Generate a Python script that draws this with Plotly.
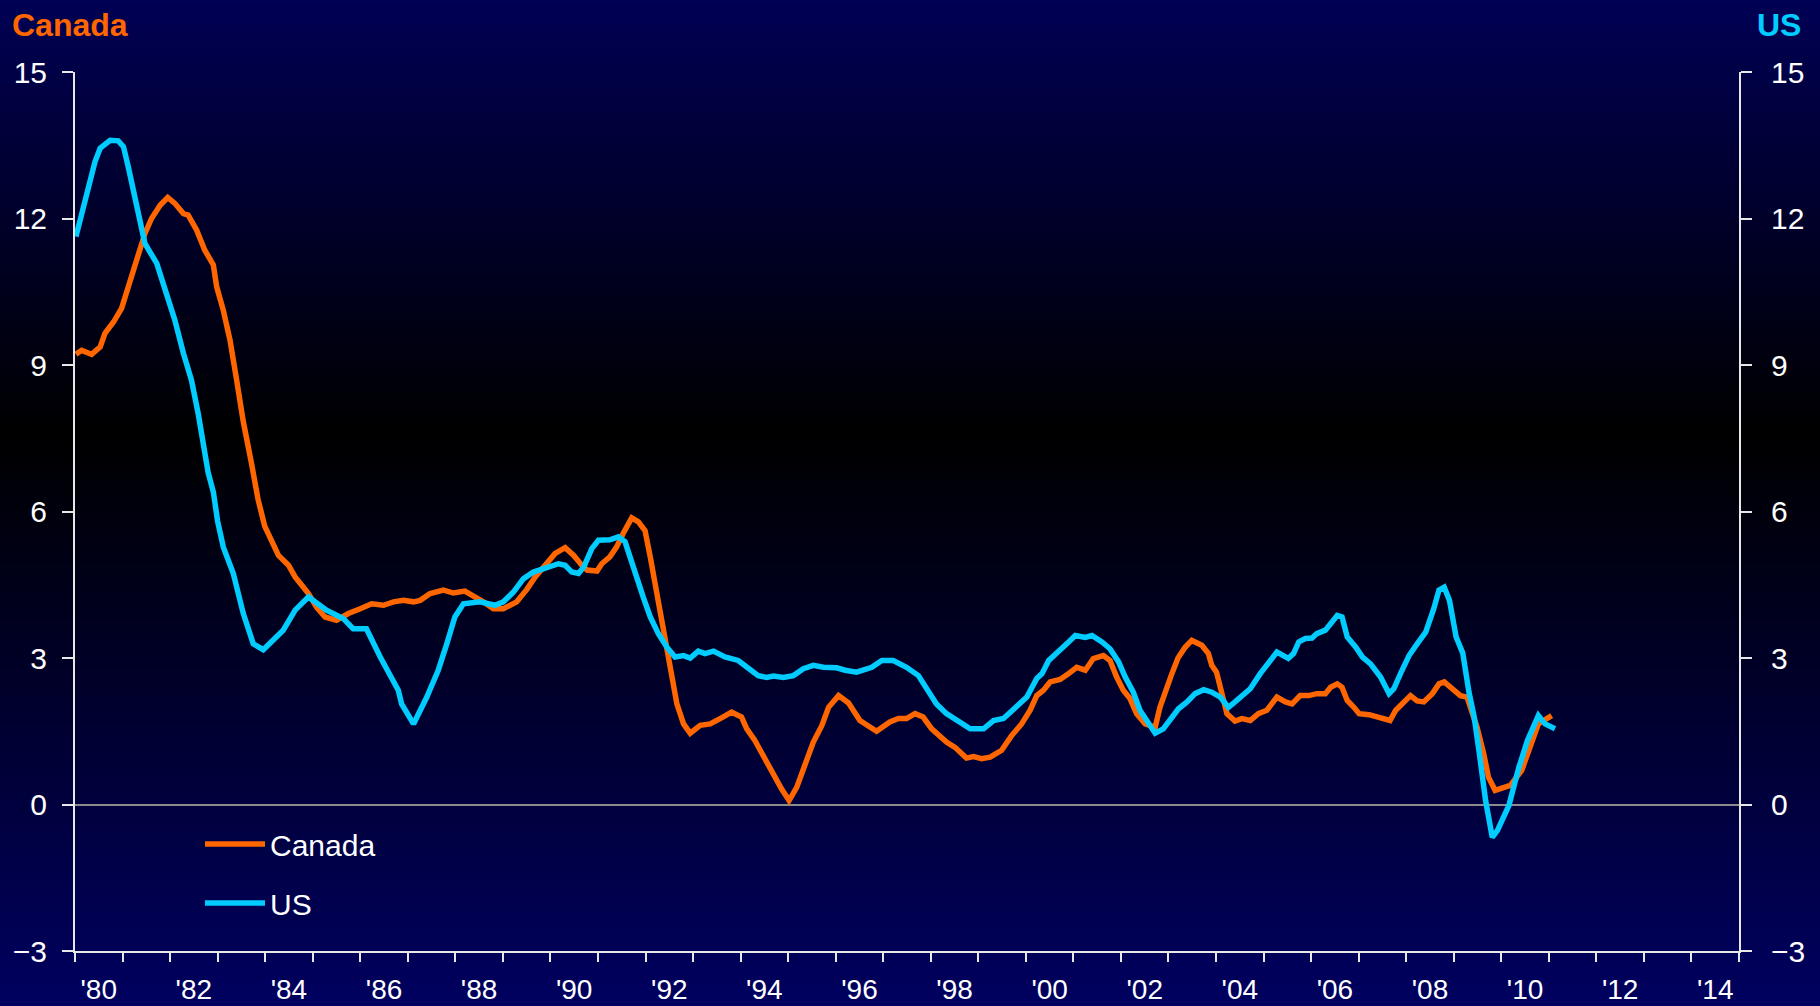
import plotly.graph_objects as go

# ---------------- data ----------------
canada_t = [1980.02, 1980.14, 1980.35, 1980.53, 1980.63, 1980.81, 1980.98, 1981.05, 1981.19, 1981.33,
            1981.47, 1981.61, 1981.79, 1981.95, 1982.10, 1982.28, 1982.38, 1982.56, 1982.73, 1982.91,
            1982.98, 1983.12, 1983.26, 1983.40, 1983.54, 1983.71, 1983.85, 1983.99, 1984.13, 1984.28,
            1984.49, 1984.63, 1984.77, 1984.91, 1985.08, 1985.26, 1985.50, 1985.75, 1986.00, 1986.24,
            1986.49, 1986.70, 1986.91, 1987.12, 1987.26, 1987.47, 1987.75, 1987.96, 1988.20, 1988.38,
            1988.59, 1988.80, 1989.01, 1989.29, 1989.50, 1989.68, 1989.92, 1990.10, 1990.31, 1990.49,
            1990.66, 1990.77, 1990.98, 1991.08, 1991.25, 1991.39, 1991.53, 1991.71, 1991.85, 1991.99,
            1992.10, 1992.24, 1992.38, 1992.52, 1992.66, 1992.80, 1992.94, 1993.15, 1993.36, 1993.57,
            1993.81, 1994.02, 1994.13, 1994.30, 1994.41, 1994.55, 1994.69, 1994.86, 1995.02, 1995.18,
            1995.36, 1995.53, 1995.71, 1995.85, 1996.06, 1996.27, 1996.51, 1996.86, 1997.14, 1997.32,
            1997.49, 1997.67, 1997.84, 1998.02, 1998.33, 1998.51, 1998.75, 1998.90, 1999.07, 1999.25,
            1999.49, 1999.70, 1999.91, 2000.09, 2000.23, 2000.37, 2000.51, 2000.72, 2000.90, 2001.07,
            2001.25, 2001.42, 2001.63, 2001.77, 2001.91, 2002.05, 2002.19, 2002.33, 2002.51, 2002.72,
            2002.82, 2002.96, 2003.06, 2003.20, 2003.35, 2003.49, 2003.70, 2003.84, 2003.91, 2004.01,
            2004.12, 2004.23, 2004.40, 2004.54, 2004.72, 2004.89, 2005.07, 2005.28, 2005.46, 2005.60,
            2005.77, 2005.95, 2006.12, 2006.30, 2006.41, 2006.55, 2006.65, 2006.76, 2006.90, 2007.01,
            2007.22, 2007.39, 2007.53, 2007.66, 2007.78, 2007.95, 2008.09, 2008.23, 2008.37, 2008.55,
            2008.69, 2008.80, 2008.97, 2009.14, 2009.28, 2009.35, 2009.49, 2009.63, 2009.73, 2009.87,
            2010.01, 2010.19, 2010.43, 2010.61, 2010.78, 2011.06]
canada_v = [9.22, 9.30, 9.22, 9.37, 9.65, 9.88, 10.16, 10.39, 10.81, 11.28,
            11.69, 12.00, 12.27, 12.43, 12.31, 12.10, 12.07, 11.76, 11.35, 11.05,
            10.60, 10.12, 9.51, 8.69, 7.84, 7.00, 6.25, 5.70, 5.41, 5.10,
            4.90, 4.66, 4.49, 4.32, 4.04, 3.84, 3.77, 3.91, 4.01, 4.11,
            4.08, 4.15, 4.18, 4.15, 4.18, 4.32, 4.39, 4.33, 4.37, 4.28,
            4.15, 4.01, 4.01, 4.15, 4.40, 4.66, 4.93, 5.14, 5.26, 5.10,
            4.90, 4.80, 4.78, 4.93, 5.07, 5.27, 5.55, 5.87, 5.79, 5.61,
            5.07, 4.32, 3.57, 2.81, 2.06, 1.65, 1.46, 1.62, 1.65, 1.76,
            1.89, 1.79, 1.55, 1.31, 1.11, 0.90, 0.63, 0.32, 0.08, 0.35,
            0.83, 1.28, 1.62, 1.99, 2.23, 2.08, 1.72, 1.50, 1.69, 1.76,
            1.76, 1.86, 1.79, 1.55, 1.28, 1.17, 0.95, 0.98, 0.94, 0.97,
            1.11, 1.41, 1.65, 1.93, 2.23, 2.34, 2.51, 2.56, 2.68, 2.81,
            2.75, 2.99, 3.05, 2.95, 2.61, 2.34, 2.17, 1.86, 1.65, 1.58,
            1.99, 2.40, 2.65, 3.00, 3.22, 3.36, 3.26, 3.09, 2.85, 2.71,
            2.27, 1.86, 1.71, 1.76, 1.72, 1.86, 1.93, 2.20, 2.10, 2.06,
            2.23, 2.23, 2.27, 2.27, 2.40, 2.47, 2.40, 2.13, 1.99, 1.86,
            1.84, 1.79, 1.74, 1.72, 1.93, 2.10, 2.23, 2.12, 2.10, 2.27,
            2.47, 2.51, 2.37, 2.23, 2.20, 1.99, 1.58, 1.04, 0.56, 0.29,
            0.34, 0.39, 0.70, 1.17, 1.65, 1.82]

us_t = [1980.02, 1980.21, 1980.42, 1980.53, 1980.74, 1980.91, 1981.02, 1981.12, 1981.23, 1981.37,
        1981.47, 1981.72, 1981.89, 1982.10, 1982.28, 1982.45, 1982.59, 1982.70, 1982.80, 1982.91,
        1983.00, 1983.12, 1983.33, 1983.54, 1983.75, 1983.96, 1984.21, 1984.38, 1984.63, 1984.91,
        1985.29, 1985.64, 1985.85, 1986.13, 1986.42, 1986.63, 1986.80, 1986.87, 1987.12, 1987.40,
        1987.64, 1987.82, 1987.99, 1988.17, 1988.52, 1988.83, 1989.01, 1989.22, 1989.43, 1989.64,
        1989.85, 1990.17, 1990.31, 1990.45, 1990.59, 1990.70, 1990.87, 1991.01, 1991.25, 1991.43,
        1991.57, 1991.67, 1991.81, 1991.95, 1992.10, 1992.27, 1992.45, 1992.62, 1992.80, 1992.94,
        1993.11, 1993.25, 1993.43, 1993.67, 1993.95, 1994.16, 1994.37, 1994.55, 1994.69, 1994.90,
        1995.11, 1995.32, 1995.53, 1995.74, 1996.02, 1996.20, 1996.44, 1996.76, 1996.97, 1997.21,
        1997.49, 1997.74, 1997.91, 1998.12, 1998.33, 1998.58, 1998.83, 1999.11, 1999.32, 1999.53,
        1999.74, 2000.02, 2000.23, 2000.34, 2000.48, 2000.72, 2000.90, 2001.04, 2001.25, 2001.39,
        2001.60, 2001.77, 2001.95, 2002.09, 2002.26, 2002.40, 2002.54, 2002.72, 2002.89, 2003.07,
        2003.21, 2003.39, 2003.56, 2003.74, 2003.91, 2004.09, 2004.26, 2004.40, 2004.58, 2004.72,
        2004.93, 2005.10, 2005.28, 2005.52, 2005.63, 2005.74, 2005.88, 2006.02, 2006.12, 2006.30,
        2006.41, 2006.55, 2006.65, 2006.76, 2006.94, 2007.08, 2007.25, 2007.46, 2007.64, 2007.74,
        2007.88, 2008.06, 2008.23, 2008.41, 2008.58, 2008.69, 2008.80, 2008.91, 2009.05, 2009.19,
        2009.32, 2009.43, 2009.53, 2009.67, 2009.81, 2009.92, 2010.16, 2010.37, 2010.55, 2010.78,
        2010.92, 2011.13]
us_v = [11.63, 12.38, 13.16, 13.44, 13.60, 13.59, 13.47, 13.06, 12.58, 11.90,
        11.49, 11.08, 10.53, 9.92, 9.24, 8.69, 8.01, 7.32, 6.80, 6.40,
        5.80, 5.27, 4.73, 3.91, 3.29, 3.17, 3.43, 3.57, 3.98, 4.25,
        3.98, 3.81, 3.60, 3.60, 3.02, 2.61, 2.34, 2.06, 1.65, 2.20,
        2.75, 3.29, 3.84, 4.11, 4.15, 4.08, 4.15, 4.35, 4.62, 4.76,
        4.83, 4.93, 4.90, 4.76, 4.73, 4.86, 5.24, 5.41, 5.42, 5.48,
        5.38, 5.07, 4.66, 4.25, 3.84, 3.50, 3.22, 3.02, 3.05, 3.00,
        3.14, 3.09, 3.14, 3.02, 2.95, 2.80, 2.64, 2.60, 2.63, 2.60,
        2.64, 2.78, 2.85, 2.81, 2.80, 2.75, 2.71, 2.81, 2.95, 2.95,
        2.81, 2.64, 2.40, 2.06, 1.86, 1.69, 1.55, 1.55, 1.72, 1.76,
        1.96, 2.20, 2.58, 2.68, 2.95, 3.19, 3.33, 3.46, 3.42, 3.46,
        3.33, 3.19, 2.92, 2.61, 2.30, 1.93, 1.72, 1.46, 1.55, 1.76,
        1.96, 2.10, 2.27, 2.35, 2.30, 2.20, 1.99, 2.10, 2.27, 2.37,
        2.68, 2.88, 3.12, 2.99, 3.09, 3.33, 3.40, 3.41, 3.50, 3.57,
        3.72, 3.87, 3.84, 3.43, 3.22, 3.02, 2.88, 2.61, 2.27, 2.37,
        2.68, 3.05, 3.29, 3.53, 4.01, 4.39, 4.45, 4.18, 3.43, 3.10,
        2.30, 1.79, 1.11, 0.08, -0.67, -0.53, -0.02, 0.76, 1.31, 1.82,
        1.65, 1.55]

year_ticks = list(range(1980, 2016))
label_years = list(range(1980, 2015, 2))
label_text = ["'" + str(y)[2:] for y in label_years]
y_ticks = [-3, 0, 3, 6, 9, 12, 15]

# ---------------- styling ----------------
FONT = "Liberation Sans, Arial, sans-serif"
ORANGE = "#FF6600"
CYAN = "#00CCFF"
AXIS = "#E8E8E8"
W, H = 1820, 1006
ML, MR, MT, MB = 75, 81, 72, 55
PW, PH = W - ML - MR, H - MT - MB

fig = go.Figure()
fig.add_trace(go.Scatter(x=canada_t, y=canada_v, name="Canada", mode="lines",
                         line=dict(color=ORANGE, width=5.5), yaxis="y", legendgroup="c"))
fig.add_trace(go.Scatter(x=us_t, y=us_v, name="US", mode="lines",
                         line=dict(color=CYAN, width=5.5), yaxis="y2", legendgroup="u"))

# background gradient (navy -> black -> navy), as paper-referenced bands
shapes = []
n = 200
mid = 435.0
for i in range(n):
    p0 = H * i / n
    p1 = H * (i + 1) / n
    pc = (p0 + p1) / 2
    if pc < mid:
        b = 84 * (mid - pc) / mid
    else:
        b = 96 * (pc - mid) / (H - mid)
    col = "rgb(0,0,%d)" % round(b)
    shapes.append(dict(type="rect", xref="paper", yref="paper", layer="below",
                       x0=-ML / PW - 0.01, x1=1 + MR / PW + 0.01,
                       y0=(H - MB - p1) / PH - 0.0005, y1=(H - MB - p0) / PH + 0.0005,
                       fillcolor=col, line=dict(width=0)))

yax_common = dict(range=[-3, 15], tickmode="array", tickvals=y_ticks, showgrid=False,
                  showline=True, linecolor=AXIS, linewidth=2, tickcolor=AXIS, tickwidth=2,
                  ticklen=11, tickfont=dict(family=FONT, size=30, color="white"),
                  fixedrange=True, automargin=False)

fig.update_layout(
    width=W, height=H,
    margin=dict(l=ML, r=MR, t=MT, b=MB),
    paper_bgcolor="#000030",
    plot_bgcolor="rgba(0,0,0,0)",
    shapes=shapes,
    font=dict(family=FONT, color="white"),
    showlegend=True,
    legend=dict(x=(200 - ML) / PW, y=(H - MB - 818) / PH, xanchor="left", yanchor="top",
                bgcolor="rgba(0,0,0,0)", font=dict(family=FONT, size=30, color="white"),
                tracegroupgap=17, itemwidth=60),
    xaxis=dict(range=[1980, 2015], tickmode="array",
               tickvals=[y + 0.5 for y in label_years], ticktext=label_text,
               ticks="", showgrid=False, zeroline=False,
               showline=True, linecolor=AXIS, linewidth=2,
               tickfont=dict(family=FONT, size=28, color="white"),
               ticklabelstandoff=12, automargin=False,
               minor=dict(tickmode="array", tickvals=year_ticks, ticks="outside",
                          ticklen=9, tickwidth=2, tickcolor=AXIS, showgrid=False),
               fixedrange=True),
    yaxis=dict(**yax_common, side="left", ticks="outside", zeroline=True,
               zerolinecolor="#8C8C8C", zerolinewidth=1.5, ticklabelstandoff=9),
    yaxis2=dict(**yax_common, side="right", overlaying="y", ticks="outside",
                zeroline=False, ticklabelstandoff=13),
    yaxis3=dict(range=[-3, 15], tickmode="array", tickvals=y_ticks, overlaying="y",
                side="left", ticks="inside", ticklen=11, tickwidth=2, tickcolor=AXIS,
                showticklabels=False, showgrid=False, zeroline=False, showline=False,
                fixedrange=True, automargin=False),
    yaxis4=dict(range=[-3, 15], tickmode="array", tickvals=y_ticks, overlaying="y",
                side="right", ticks="inside", ticklen=11, tickwidth=2, tickcolor=AXIS,
                showticklabels=False, showgrid=False, zeroline=False, showline=False,
                fixedrange=True, automargin=False),
    annotations=[
        dict(text="<b>Canada</b>", xref="paper", yref="paper", x=(10 - ML) / PW,
             y=(H - MB - 25) / PH, xanchor="left", yanchor="middle", showarrow=False,
             font=dict(family=FONT, size=32, color=ORANGE)),
        dict(text="<b>US</b>", xref="paper", yref="paper", x=(1803 - ML) / PW,
             y=(H - MB - 25) / PH, xanchor="right", yanchor="middle", showarrow=False,
             font=dict(family=FONT, size=32, color=CYAN)),
    ],
)

fig.write_html("out.html", config={"displayModeBar": False},
               post_script="document.body.style.margin='0';document.body.style.overflow='hidden';")
